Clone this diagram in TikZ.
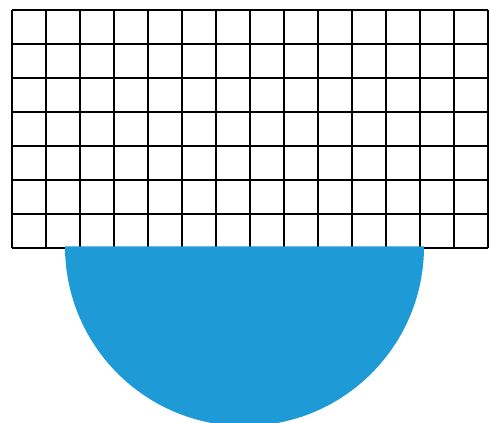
\documentclass[tikz,border=0pt]{standalone}
\usepackage{xcolor}
\usepackage{tikz}
\usetikzlibrary{calc}

\definecolor{bowlblue}{RGB}{30,155,214}

\begin{document}
\begin{tikzpicture}[
    x=0.75pt, y=-0.75pt,
    gridline/.style={draw=black, line width=1.5pt},
    bowl/.style={fill=bowlblue, draw=none}
]

% page frame, in pixels of the reference
\clip (0,0) rectangle (489,423);
\useasboundingbox (0,0) rectangle (489,423);

% grid, 14 x 7 cells
\foreach \i in {0,...,14}
    \draw[gridline] (12+34*\i,10) -- (12+34*\i,248);
\foreach \j in {0,...,7}
    \draw[gridline] (12,10+34*\j) -- (488,10+34*\j);

% half disc below the grid
\fill[bowl] (65,246.5) arc[start angle=180, end angle=0, radius=179.5] -- cycle;

\end{tikzpicture}
\end{document}
